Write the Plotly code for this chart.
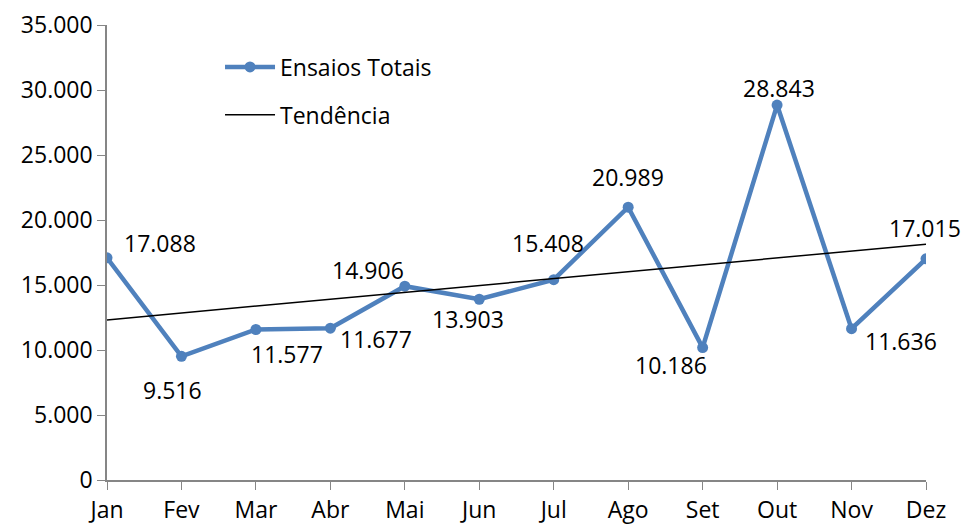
import numpy as np
import plotly.graph_objects as go

months = ["Jan", "Fev", "Mar", "Abr", "Mai", "Jun", "Jul", "Ago", "Set", "Out", "Nov", "Dez"]
ensaios = [17088, 9516, 11577, 11677, 14906, 13903, 15408, 20989, 10186, 28843, 11636, 17015]
y_ticks = [0, 5000, 10000, 15000, 20000, 25000, 30000, 35000]
y_tick_labels = ["0", "5.000", "10.000", "15.000", "20.000", "25.000", "30.000", "35.000"]

# label offsets (pixels) for each data label
label_dx = [53, -9, 31, 46, -37, -11, -6, 0, -32, 2, 49, -1]
label_dy = [15, -34, -24, -11, 16, -20, 37, 30, -17, 17, -12, 31]

x_idx = np.arange(len(months))
slope, intercept = np.polyfit(x_idx, ensaios, 1)
trend = slope * x_idx + intercept

FONT = "Open Sans"
FS = 23

fig = go.Figure()
fig.add_trace(go.Scatter(
    x=months, y=ensaios, mode="lines+markers", name="Ensaios Totais",
    line=dict(color="#4F81BD", width=4.5),
    marker=dict(size=11, color="#4F81BD"),
    legendgroup="a",
))
fig.add_trace(go.Scatter(
    x=months, y=trend, mode="lines", name="Tendência",
    line=dict(color="black", width=1.5),
    legendgroup="b",
))

def fmt(v):
    return f"{v:,}".replace(",", ".")

for m, v, dx, dy in zip(months, ensaios, label_dx, label_dy):
    fig.add_annotation(x=m, y=v, text=fmt(v), showarrow=False,
                       xshift=dx, yshift=dy,
                       font=dict(family=FONT, size=FS, color="black"))

fig.update_layout(
    width=963, height=527,
    margin=dict(l=107, r=37, t=25, b=47, autoexpand=False),
    paper_bgcolor="white", plot_bgcolor="white",
    font=dict(family=FONT, size=FS, color="black"),
    showlegend=True,
    legend=dict(x=0.138, y=0.955, xanchor="left", yanchor="top",
                bgcolor="rgba(0,0,0,0)", font=dict(family=FONT, size=FS),
                traceorder="grouped", tracegroupgap=15, itemwidth=50),
    xaxis=dict(
        type="category", range=[0, 11], showgrid=False,
        showline=True, linecolor="#868686", linewidth=1.5,
        ticks="outside", ticklen=8, tickcolor="#868686",
        tickfont=dict(family=FONT, size=FS, color="black"),
        ticklabelstandoff=1,
        zeroline=False, automargin=False,
    ),
    yaxis=dict(
        range=[0, 35000], tickvals=y_ticks, ticktext=y_tick_labels,
        showgrid=False, showline=True, linecolor="#868686", linewidth=1.5,
        ticks="outside", ticklen=8, tickcolor="#868686",
        tickfont=dict(family=FONT, size=FS, color="black"),
        zeroline=False, automargin=False,
    ),
)

fig.write_html("out.html", config={"displayModeBar": False},
               post_script="document.body.style.margin='0';")
